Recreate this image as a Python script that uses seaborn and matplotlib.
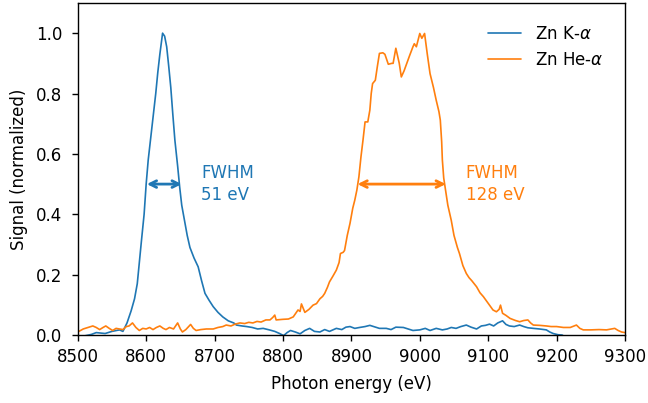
import numpy as np
import pandas as pd
import matplotlib
matplotlib.use("Agg")
import matplotlib.pyplot as plt
import seaborn as sns

# Zn K-alpha spectrum (normalized)
ka_energy = [8500, 8510, 8520, 8527, 8540, 8550, 8561, 8566, 8572, 8578, 8583, 8587, 8590, 8593,
             8597, 8600, 8603, 8606, 8610, 8614, 8617, 8620, 8624, 8627, 8630, 8633, 8636, 8639,
             8642, 8646, 8649, 8652, 8656, 8660, 8664, 8670, 8676, 8681, 8686, 8692, 8698, 8705,
             8712, 8720, 8728, 8732, 8740, 8747, 8755, 8763, 8771, 8780, 8788, 8795, 8801, 8806,
             8811, 8818, 8825, 8832, 8839, 8846, 8854, 8861, 8868, 8878, 8886, 8892, 8898, 8905,
             8912, 8920, 8927, 8934, 8941, 8951, 8958, 8965, 8976, 8983, 8990, 9000, 9008, 9015,
             9024, 9033, 9040, 9046, 9053, 9060, 9068, 9075, 9083, 9090, 9096, 9102, 9108, 9114,
             9121, 9126, 9131, 9138, 9146, 9152, 9158, 9166, 9175, 9185, 9190, 9195, 9202, 9208,
             9215, 9230, 9250, 9270, 9300]
ka_signal = [-0.005, -0.003, 0.002, 0.008, 0.005, 0.012, 0.017, 0.012, 0.04, 0.08, 0.12, 0.17, 0.24, 0.31,
             0.40, 0.50, 0.58, 0.64, 0.72, 0.80, 0.87, 0.93, 1.0, 0.99, 0.955, 0.89, 0.82, 0.73,
             0.645, 0.56, 0.49, 0.43, 0.38, 0.33, 0.29, 0.255, 0.226, 0.18, 0.138, 0.115, 0.094, 0.075,
             0.06, 0.047, 0.04, 0.033, 0.03, 0.028, 0.025, 0.02, 0.022, 0.017, 0.012, 0.005, -0.002, 0.008,
             0.015, 0.01, 0.004, 0.015, 0.022, 0.012, 0.01, 0.018, 0.012, 0.022, 0.018, 0.026, 0.028, 0.022,
             0.025, 0.028, 0.032, 0.027, 0.022, 0.022, 0.018, 0.026, 0.025, 0.02, 0.015, 0.017, 0.022, 0.015,
             0.022, 0.017, 0.02, 0.025, 0.022, 0.028, 0.033, 0.026, 0.02, 0.03, 0.032, 0.036, 0.03, 0.04,
             0.047, 0.035, 0.03, 0.028, 0.033, 0.028, 0.024, 0.022, 0.02, 0.017, 0.01, 0.005, 0.001, 0.0,
             -0.01, -0.02, -0.02, -0.02, -0.02]

# Zn He-alpha spectrum (normalized)
hea_energy = [8500, 8508, 8515, 8522, 8527, 8532, 8537, 8541, 8546, 8551, 8556, 8561, 8566, 8571,
              8575, 8580, 8585, 8590, 8595, 8600, 8605, 8610, 8615, 8620, 8625, 8629, 8634, 8640,
              8646, 8650, 8653, 8658, 8665, 8669, 8673, 8680, 8688, 8698, 8705, 8712, 8717, 8724,
              8730, 8737, 8744, 8750, 8756, 8762, 8768, 8775, 8781, 8785, 8788, 8790, 8800, 8808,
              8815, 8822, 8825, 8827, 8832, 8838, 8844, 8849, 8854, 8858, 8861, 8865, 8868, 8873,
              8878, 8882, 8884, 8888, 8890, 8894, 8898, 8902, 8905, 8908, 8911, 8914, 8917, 8920,
              8924, 8927, 8929, 8931, 8935, 8938, 8941, 8946, 8949, 8952, 8954, 8959, 8961, 8965,
              8968, 8970, 8973, 8977, 8980, 8985, 8990, 8992, 8995, 9000, 9003, 9007, 9011, 9015,
              9020, 9024, 9028, 9030, 9032, 9033, 9035, 9037, 9041, 9046, 9050, 9055, 9058, 9063,
              9068, 9072, 9076, 9083, 9088, 9093, 9100, 9107, 9112, 9116, 9118, 9121, 9126, 9132,
              9140, 9146, 9152, 9158, 9162, 9166, 9175, 9185, 9192, 9200, 9210, 9220, 9229, 9234,
              9239, 9250, 9262, 9273, 9280, 9285, 9290, 9295, 9300]
hea_signal = [0.01, 0.02, 0.025, 0.03, 0.025, 0.018, 0.025, 0.03, 0.022, 0.015, 0.022, 0.02, 0.018, 0.028,
              0.03, 0.04, 0.025, 0.015, 0.022, 0.02, 0.025, 0.018, 0.025, 0.03, 0.022, 0.018, 0.025, 0.02,
              0.04, 0.02, 0.01, 0.018, 0.035, 0.022, 0.015, 0.018, 0.02, 0.02, 0.025, 0.028, 0.033, 0.03,
              0.036, 0.04, 0.038, 0.042, 0.04, 0.045, 0.043, 0.05, 0.05, 0.058, 0.066, 0.05, 0.052, 0.053,
              0.06, 0.083, 0.078, 0.103, 0.075, 0.085, 0.099, 0.104, 0.12, 0.128, 0.138, 0.158, 0.176, 0.195,
              0.215, 0.24, 0.27, 0.274, 0.28, 0.33, 0.37, 0.42, 0.447, 0.48, 0.524, 0.59, 0.646, 0.706,
              0.706, 0.745, 0.80, 0.833, 0.844, 0.89, 0.933, 0.935, 0.93, 0.91, 0.897, 0.90, 0.90, 0.95,
              0.92, 0.90, 0.855, 0.875, 0.894, 0.925, 0.955, 0.965, 0.955, 0.999, 0.983, 0.999, 0.93, 0.866,
              0.82, 0.778, 0.74, 0.712, 0.64, 0.58, 0.52, 0.49, 0.43, 0.38, 0.33, 0.29, 0.27, 0.23,
              0.204, 0.19, 0.18, 0.16, 0.14, 0.127, 0.105, 0.083, 0.077, 0.085, 0.099, 0.072, 0.065, 0.055,
              0.048, 0.044, 0.048, 0.05, 0.04, 0.033, 0.032, 0.03, 0.028, 0.028, 0.025, 0.025, 0.033, 0.022,
              0.017, 0.017, 0.018, 0.017, 0.02, 0.022, 0.015, 0.01, 0.008]

series_names = ["Zn K-$\\alpha$", "Zn He-$\\alpha$"]
colors = ["#1f77b4", "#ff7f0e"]
fwhm_bounds = [(8601, 8652), (8909, 9038)]
fwhm_labels = ["FWHM\n51 eV", "FWHM\n128 eV"]
label_x = [8680, 9067]
half_max = 0.5

df = pd.concat([
    pd.DataFrame({"energy": ka_energy, "signal": ka_signal, "line": series_names[0]}),
    pd.DataFrame({"energy": hea_energy, "signal": hea_signal, "line": series_names[1]}),
], ignore_index=True)

sns.set_style("ticks")
plt.rcParams.update({"font.family": ["DejaVu Sans"], "axes.edgecolor": "black",
                     "text.color": "black", "axes.labelcolor": "black",
                     "xtick.color": "black", "ytick.color": "black", "axes.linewidth": 1.0,
                     "xtick.major.size": 4, "ytick.major.size": 4,
                     "xtick.major.pad": 5, "ytick.major.pad": 7,
                     "xtick.major.width": 1.0, "ytick.major.width": 1.0, "font.size": 12})

fig, ax = plt.subplots(figsize=(6.48, 4.03), dpi=100)
sns.lineplot(data=df, x="energy", y="signal", hue="line", palette=colors, sort=False,
             estimator=None, linewidth=1.2, ax=ax)

for (lo, hi), txt, tx, c in zip(fwhm_bounds, fwhm_labels, label_x, colors):
    ax.annotate("", xy=(lo, half_max), xytext=(hi, half_max),
                arrowprops=dict(arrowstyle="<->", color=c, lw=2, shrinkA=0, shrinkB=0))
    ax.text(tx, half_max, txt, color=c, fontsize=12, va="center", ha="left", linespacing=1.25)

ax.set_xlim(8500, 9300)
ax.set_ylim(0, 1.1)
ax.set_xticks(np.arange(8500, 9301, 100))
ax.set_yticks(np.arange(0, 1.01, 0.2))
ax.tick_params(labelsize=12)
ax.set_xlabel("Photon energy (eV)", fontsize=12, labelpad=7)
ax.set_ylabel("Signal (normalized)", fontsize=12, labelpad=6)
ax.legend(frameon=False, fontsize=12, loc="upper right", borderaxespad=0.9)

fig.subplots_adjust(left=0.120, right=0.9645, top=0.9926, bottom=0.1687)
fig.savefig("out.png", dpi=100)
